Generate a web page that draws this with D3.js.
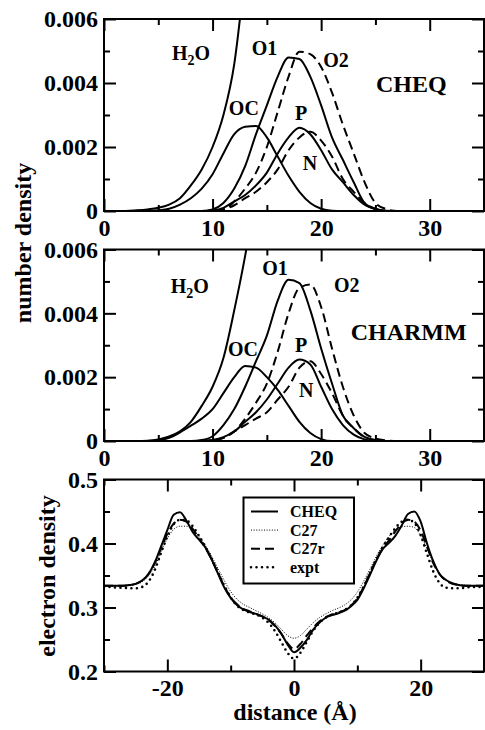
<!DOCTYPE html>
<html>
<head>
<meta charset="utf-8">
<script src="https://cdn.jsdelivr.net/npm/d3@7"></script>
<style>
  body { margin: 0; background: #fff; }
  svg { display: block; font-family: "Liberation Serif", "Times New Roman", serif; font-weight: bold; }
</style>
</head>
<body>
<svg id="chart" width="485" height="730"></svg>
<script>
// ---- number density profiles (distance from bilayer centre, Å) ----
const zGrid = [0,1,2,3,4,5,6,7,8,9,10,11,12,13,14,15,16,17,18,19,20,21,22,23,24,25,26,27,28,29,30];

// CHEQ
const cheqH2O = [0,0,0,0.00002,0.00005,0.0001,0.0002,0.0004,0.0008,0.0013,0.002,0.003,0.0046,0.0075,0.011,null,null,null,null,null,null,null,null,null,null,null,null,null,null,null,null];
const cheqOC  = [0,0,0,0,0,0.00002,0.00007,0.0002,0.0004,0.0007,0.00115,0.0018,0.0024,0.00263,0.00266,0.0023,0.0017,0.0011,0.0006,0.00025,0.00007,0.00001,0,0,0,0,0,0,0,0,0];
const cheqO1  = [0,0,0,0,0,0,0,0,0,0,0.00005,0.00025,0.0007,0.0014,0.0024,0.0033,0.0042,0.0048,0.00475,0.0042,0.0033,0.0023,0.0016,0.0009,0.00025,0.00006,0.00001,0,0,0,0];
const cheqO2  = [0,0,0,0,0,0,0,0,0,0,0,0.00004,0.0003,0.0007,0.0012,0.002,0.0031,0.0042,0.00498,0.0049,0.0045,0.0037,0.0027,0.0018,0.0009,0.00025,0.00006,0,0,0,0];
const cheqP   = [0,0,0,0,0,0,0,0,0,0,0.00002,0.0001,0.0003,0.0005,0.0008,0.0012,0.0018,0.0023,0.0026,0.0024,0.0019,0.0013,0.0009,0.0005,0.0002,0.00006,0,0,0,0,0];
const cheqN   = [0,0,0,0,0,0,0,0,0,0,0.00001,0.00005,0.00018,0.0004,0.0006,0.0009,0.0013,0.0019,0.0023,0.00248,0.0022,0.0017,0.001,0.0006,0.00025,0.00007,0,0,0,0,0];

// CHARMM
const chmH2O = [0,0,0,0,0.00001,0.00005,0.00014,0.0003,0.0006,0.0011,0.0017,0.0026,0.0041,0.0058,0.0078,null,null,null,null,null,null,null,null,null,null,null,null,null,null,null,null];
const chmOC  = [0,0,0,0,0,0.00002,0.0001,0.00027,0.00048,0.0007,0.001,0.0015,0.002,0.00235,0.0023,0.002,0.0016,0.0011,0.0006,0.00025,0.00006,0,0,0,0,0,0,0,0,0,0];
const chmO1  = [0,0,0,0,0,0,0,0,0,0.00003,0.00015,0.0005,0.001,0.0017,0.0025,0.0033,0.0044,0.00505,0.00495,0.0041,0.0029,0.0018,0.0008,0.0004,0.00013,0.00003,0,0,0,0,0];
const chmO2  = [0,0,0,0,0,0,0,0,0,0,0.00002,0.0001,0.0003,0.0007,0.0012,0.0018,0.0028,0.004,0.0048,0.0049,0.0042,0.0029,0.0017,0.0008,0.00025,0.00008,0.00002,0,0,0,0];
const chmP   = [0,0,0,0,0,0,0,0,0,0,0.00003,0.00012,0.0003,0.0006,0.0009,0.0013,0.0018,0.0023,0.00255,0.0024,0.0017,0.001,0.0005,0.0002,0.00005,0,0,0,0,0,0];
const chmN   = [0,0,0,0,0,0,0,0,0,0,0.00002,0.0001,0.0003,0.0005,0.0007,0.0009,0.0013,0.0017,0.0023,0.0025,0.0021,0.0015,0.0008,0.0004,0.00012,0.00003,0,0,0,0,0];

// ---- electron density profiles ----
const dGrid = [-30,-29,-28,-27,-26,-25,-24,-23,-22,-21,-20,-19,-18,-17,-16,-15,-14,-13,-12,-11,-10,-9,-8,-7,-6,-5,-4,-3,-2,-1,
               0,1,2,3,4,5,6,7,8,9,10,11,12,13,14,15,16,17,18,19,20,21,22,23,24,25,26,27,28,29,30];
const edCHEQ = [0.334,0.334,0.334,0.334,0.335,0.337,0.342,0.352,0.370,0.395,0.421,0.445,0.449,0.436,0.418,0.406,0.394,0.375,0.353,0.331,
                0.315,0.304,0.297,0.293,0.290,0.286,0.281,0.272,0.259,0.242,0.230,0.237,0.249,0.265,0.276,0.284,0.288,0.291,0.295,0.302,
                0.312,0.330,0.351,0.373,0.391,0.401,0.412,0.428,0.446,0.450,0.434,0.400,0.372,0.352,0.343,0.338,0.335,0.334,0.334,0.334,0.334];
const edC27  = [0.334,0.334,0.334,0.334,0.334,0.336,0.340,0.349,0.364,0.386,0.408,0.422,0.427,0.427,0.422,0.411,0.397,0.380,0.361,0.342,
                0.325,0.313,0.305,0.300,0.295,0.290,0.284,0.276,0.266,0.256,0.252,0.256,0.266,0.276,0.284,0.290,0.295,0.299,0.304,0.312,
                0.324,0.341,0.360,0.380,0.397,0.411,0.421,0.426,0.427,0.425,0.412,0.392,0.370,0.353,0.343,0.338,0.336,0.335,0.334,0.334,0.334];
const edC27r = [0.334,0.334,0.334,0.334,0.335,0.337,0.342,0.352,0.369,0.392,0.415,0.431,0.437,0.434,0.423,0.408,0.393,0.375,0.354,0.333,
                0.316,0.305,0.298,0.294,0.290,0.286,0.280,0.271,0.259,0.244,0.235,0.243,0.256,0.268,0.278,0.285,0.289,0.292,0.296,0.303,
                0.314,0.332,0.354,0.375,0.392,0.405,0.419,0.431,0.437,0.434,0.420,0.395,0.369,0.352,0.342,0.337,0.335,0.334,0.334,0.334,0.334];
const edExpt = [0.332,0.332,0.331,0.331,0.330,0.330,0.332,0.340,0.358,0.385,0.411,0.430,0.437,0.436,0.427,0.412,0.395,0.376,0.355,0.334,
                0.316,0.303,0.296,0.292,0.289,0.284,0.276,0.263,0.246,0.229,0.220,0.229,0.246,0.263,0.276,0.284,0.289,0.292,0.296,0.303,
                0.315,0.333,0.354,0.375,0.394,0.410,0.424,0.434,0.437,0.432,0.413,0.384,0.356,0.338,0.331,0.330,0.330,0.331,0.332,0.332,0.332];

const legendNames = ['CHEQ', 'C27', 'C27r', 'expt'];

// -------------------------------------------------------------
const svg = d3.select('#chart');
const FONT = '"Liberation Serif", "Times New Roman", serif';
const left = 104, right = 484;

function axes(g, x, y, o) {
  const [yb, yt] = y.range();
  const styleAxis = a => a.attr('font-family', FONT).attr('font-size', 24).attr('font-weight', 'bold');
  g.append('g').attr('transform', `translate(0,${yb})`)
    .call(d3.axisBottom(x).tickValues(o.xMajor).tickSize(-12).tickPadding(o.xPad).tickFormat(d => String(d))).call(styleAxis);
  g.append('g').attr('transform', `translate(0,${yb})`)
    .call(d3.axisBottom(x).tickValues(o.xMinor).tickSize(-6).tickFormat(''));
  g.append('g').attr('transform', `translate(0,${yt})`)
    .call(d3.axisTop(x).tickValues(o.xMajor).tickSize(-12).tickFormat(''));
  g.append('g').attr('transform', `translate(0,${yt})`)
    .call(d3.axisTop(x).tickValues(o.xMinor).tickSize(-6).tickFormat(''));
  g.append('g').attr('transform', `translate(${left},0)`)
    .call(d3.axisLeft(y).tickValues(o.yMajor).tickSize(-12).tickPadding(6).tickFormat(o.yFmt)).call(styleAxis);
  g.append('g').attr('transform', `translate(${left},0)`)
    .call(d3.axisLeft(y).tickValues(o.yMinor).tickSize(-6).tickFormat(''));
  g.append('g').attr('transform', `translate(${right},0)`)
    .call(d3.axisRight(y).tickValues(o.yMajor).tickSize(-12).tickFormat(''));
  g.append('g').attr('transform', `translate(${right},0)`)
    .call(d3.axisRight(y).tickValues(o.yMinor).tickSize(-6).tickFormat(''));
  g.selectAll('.domain').remove();
  g.selectAll('.tick line').attr('stroke', '#000').attr('stroke-width', 2);
  g.selectAll('.tick text').attr('fill', '#000');
  g.append('rect')
    .attr('x', left).attr('y', yt).attr('width', right - left).attr('height', yb - yt)
    .attr('fill', 'none').attr('stroke', '#000').attr('stroke-width', 2);
}

function label(g, txt, x, y, size) {
  g.append('text').attr('x', x).attr('y', y).attr('font-size', size || 20).text(txt);
}
function h2oLabel(g, x, y) {
  const t = g.append('text').attr('x', x).attr('y', y).attr('font-size', 20);
  t.append('tspan').text('H');
  t.append('tspan').attr('font-size', 14).attr('dy', 5).text('2');
  t.append('tspan').attr('dy', -5).text('O');
}

function numberPanel(id, top, bottom, series, labels) {
  const g = svg.append('g');
  const x = d3.scaleLinear().domain([0, 35]).range([left, right]);
  const y = d3.scaleLinear().domain([0, 0.006]).range([bottom, top]);
  g.append('clipPath').attr('id', id).append('rect')
    .attr('x', left).attr('y', top).attr('width', right - left).attr('height', bottom - top);
  const line = d3.line()
    .defined(d => d[1] != null)
    .x(d => x(d[0])).y(d => y(d[1]))
    .curve(d3.curveMonotoneX);
  const curves = g.append('g').attr('clip-path', `url(#${id})`);
  series.forEach(s => {
    curves.append('path')
      .datum(zGrid.map((z, i) => [z, s.v[i]]))
      .attr('d', line)
      .attr('fill', 'none').attr('stroke', '#000').attr('stroke-width', 2)
      .attr('stroke-dasharray', s.dash ? '9,5' : null);
  });
  axes(g, x, y, {
    xMajor: [0, 10, 20, 30], xMinor: [5, 15, 25], xPad: 8,
    yMajor: [0, 0.002, 0.004, 0.006], yMinor: [0.001, 0.003, 0.005],
    yFmt: d => d === 0 ? '0' : d3.format('.3f')(d)
  });
  const lg = g.append('g').attr('font-family', FONT).attr('font-weight', 'bold');
  h2oLabel(lg, x(labels.H2O[0]), y(labels.H2O[1]));
  ['OC', 'O1', 'O2', 'P', 'N'].forEach(k => label(lg, k, x(labels[k][0]), y(labels[k][1])));
  label(lg, labels.name, x(labels.nameAt[0]), y(labels.nameAt[1]), 24);
}

numberPanel('clipA', 19, 211, [
  { v: cheqH2O }, { v: cheqOC }, { v: cheqO1 }, { v: cheqO2, dash: true }, { v: cheqP }, { v: cheqN, dash: true }
], {
  H2O: [6.26, 0.00473], OC: [11.5, 0.0030], O1: [13.6, 0.00488], O2: [20.2, 0.00451],
  P: [17.6, 0.00284], N: [18.3, 0.00128], name: 'CHEQ', nameAt: [25.05, 0.00373]
});

numberPanel('clipB', 249.5, 441, [
  { v: chmH2O }, { v: chmOC }, { v: chmO1 }, { v: chmO2, dash: true }, { v: chmP }, { v: chmN, dash: true }
], {
  H2O: [6.14, 0.00463], OC: [11.42, 0.00266], O1: [14.58, 0.0052], O2: [21.18, 0.00468],
  P: [17.6, 0.0028], N: [17.96, 0.00139], name: 'CHARMM', nameAt: [22.72, 0.00316]
});

// ---- electron density panel ----
(function () {
  const top = 479.5, bottom = 671.5;
  const g = svg.append('g');
  const x = d3.scaleLinear().domain([-30, 30]).range([left, right]);
  const y = d3.scaleLinear().domain([0.2, 0.5]).range([bottom, top]);
  g.append('clipPath').attr('id', 'clipC').append('rect')
    .attr('x', left).attr('y', top).attr('width', right - left).attr('height', bottom - top);
  const line = d3.line().x(d => x(d[0])).y(d => y(d[1])).curve(d3.curveMonotoneX);
  const styles = [
    { v: edCHEQ, w: 2, dash: null, cap: 'butt' },
    { v: edC27, w: 1, dash: '1,1.6', cap: 'butt' },
    { v: edC27r, w: 2, dash: '9,5', cap: 'butt' },
    { v: edExpt, w: 2.6, dash: '0,5.5', cap: 'round' }
  ];
  const curves = g.append('g').attr('clip-path', 'url(#clipC)');
  styles.forEach(s => {
    curves.append('path')
      .datum(dGrid.map((d, i) => [d, s.v[i]]))
      .attr('d', line)
      .attr('fill', 'none').attr('stroke', '#000')
      .attr('stroke-width', s.w).attr('stroke-dasharray', s.dash).attr('stroke-linecap', s.cap);
  });
  axes(g, x, y, {
    xMajor: [-20, 0, 20], xMinor: [-30, -10, 10, 30], xPad: 7,
    yMajor: [0.2, 0.3, 0.4, 0.5], yMinor: [0.25, 0.35, 0.45],
    yFmt: d3.format('.1f')
  });

  // legend
  const lg = g.append('g').attr('font-family', FONT).attr('font-weight', 'bold');
  lg.append('rect').attr('x', 243.5).attr('y', 497.5).attr('width', 110.5).attr('height', 86)
    .attr('fill', '#fff').attr('stroke', '#000').attr('stroke-width', 2);
  legendNames.forEach((name, i) => {
    const ly = 511.5 + i * 18.6;
    const s = styles[i];
    lg.append('line').attr('x1', 251).attr('x2', 278).attr('y1', ly).attr('y2', ly)
      .attr('stroke', '#000').attr('stroke-width', s.w)
      .attr('stroke-dasharray', s.dash).attr('stroke-linecap', s.cap);
    lg.append('text').attr('x', 290).attr('y', ly + 5.5).attr('font-size', 16).text(name);
  });
})();

// ---- axis titles ----
const titles = svg.append('g').attr('font-family', FONT).attr('font-weight', 'bold').attr('font-size', 24)
  .attr('text-anchor', 'middle');
titles.append('text').attr('transform', 'translate(31,243) rotate(-90)').text('number density');
titles.append('text').attr('transform', 'translate(55,576) rotate(-90)').text('electron density');
titles.append('text').attr('x', 295).attr('y', 720).text('distance (Å)');
</script>
</body>
</html>
